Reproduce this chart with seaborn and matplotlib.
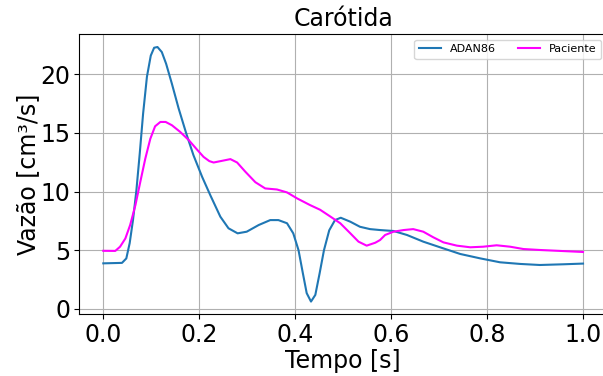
import matplotlib
matplotlib.use("Agg")
import matplotlib.pyplot as plt
import seaborn as sns
import pandas as pd

t_adan = [0.0, 0.039, 0.048, 0.055, 0.062, 0.069, 0.076, 0.083, 0.091, 0.099, 0.106, 0.113, 0.122,
          0.131, 0.143, 0.157, 0.173, 0.188, 0.206, 0.223, 0.244, 0.261, 0.28, 0.299, 0.324, 0.348,
          0.365, 0.383, 0.396, 0.407, 0.416, 0.424, 0.433, 0.442, 0.451, 0.46, 0.471, 0.483, 0.495,
          0.515, 0.535, 0.556, 0.577, 0.605, 0.633, 0.667, 0.702, 0.744, 0.785, 0.827, 0.869, 0.91,
          0.959, 1.0]
q_adan = [3.88, 3.92, 4.3, 5.6, 7.6, 10.1, 13.25, 16.65, 19.8, 21.6, 22.27, 22.33, 21.9,
          20.9, 19.2, 17.1, 14.95, 13.1, 11.26, 9.7, 7.86, 6.87, 6.44, 6.58, 7.15, 7.57,
          7.57, 7.3, 6.44, 5.0, 3.04, 1.34, 0.62, 1.19, 3.04, 5.0, 6.7, 7.57, 7.77,
          7.43, 7.0, 6.8, 6.72, 6.64, 6.3, 5.73, 5.25, 4.68, 4.31, 3.97, 3.83, 3.74,
          3.8, 3.86]

t_pac = [0.0, 0.025, 0.035, 0.046, 0.056, 0.067, 0.077, 0.0875, 0.098, 0.108, 0.119, 0.13, 0.143,
         0.16, 0.178, 0.195, 0.209, 0.221, 0.23, 0.247, 0.265, 0.279, 0.296, 0.317, 0.3375, 0.362,
         0.383, 0.404, 0.431, 0.452, 0.473, 0.494, 0.515, 0.532, 0.549, 0.567, 0.577, 0.5875, 0.605,
         0.626, 0.646, 0.667, 0.688, 0.709, 0.737, 0.765, 0.792, 0.82, 0.848, 0.876, 0.91, 0.952, 1.0]
q_pac = [4.95, 4.94, 5.3, 6.0, 7.15, 8.85, 10.8, 12.8, 14.5, 15.57, 15.94, 15.94, 15.66,
         15.1, 14.4, 13.6, 12.96, 12.6, 12.48, 12.62, 12.77, 12.48, 11.7, 10.8, 10.27, 10.18,
         9.93, 9.42, 8.85, 8.45, 7.88, 7.3, 6.44, 5.73, 5.39, 5.64, 5.87, 6.3, 6.58,
         6.72, 6.8, 6.58, 6.1, 5.67, 5.39, 5.25, 5.3, 5.42, 5.3, 5.1, 5.02, 4.94, 4.85]

df = pd.concat([
    pd.DataFrame({"Tempo": t_adan, "Vazao": q_adan, "Serie": "ADAN86"}),
    pd.DataFrame({"Tempo": t_pac, "Vazao": q_pac, "Serie": "Paciente"}),
])

fig = plt.figure(figsize=(6.03, 3.76), dpi=100)
ax = fig.add_axes([79.3 / 603, (376 - 314.3) / 376, (607 - 79.3) / 603, (314.3 - 34.3) / 376])
sns.lineplot(data=df, x="Tempo", y="Vazao", hue="Serie", palette={"ADAN86": "#1f77b4", "Paciente": "#ff00ff"},
             linewidth=1.5, ax=ax, sort=False, estimator=None)
ax.set_xlim(-0.05, 1.05)
ax.set_xticks([0.0, 0.2, 0.4, 0.6, 0.8, 1.0])
ax.set_yticks([0, 5, 10, 15, 20])
ax.grid(True, color="#b0b0b0", linewidth=0.8)
ax.tick_params(labelsize=17, pad=3)
ax.set_xlabel("Tempo [s]", fontsize=17, labelpad=1)
ax.set_ylabel("Vazão [cm³/s]", fontsize=17, labelpad=0)
ax.set_title("Carótida", fontsize=17)
ax.legend(ncol=2, loc="upper right", fontsize=8)
fig.savefig("out.png", dpi=100)
